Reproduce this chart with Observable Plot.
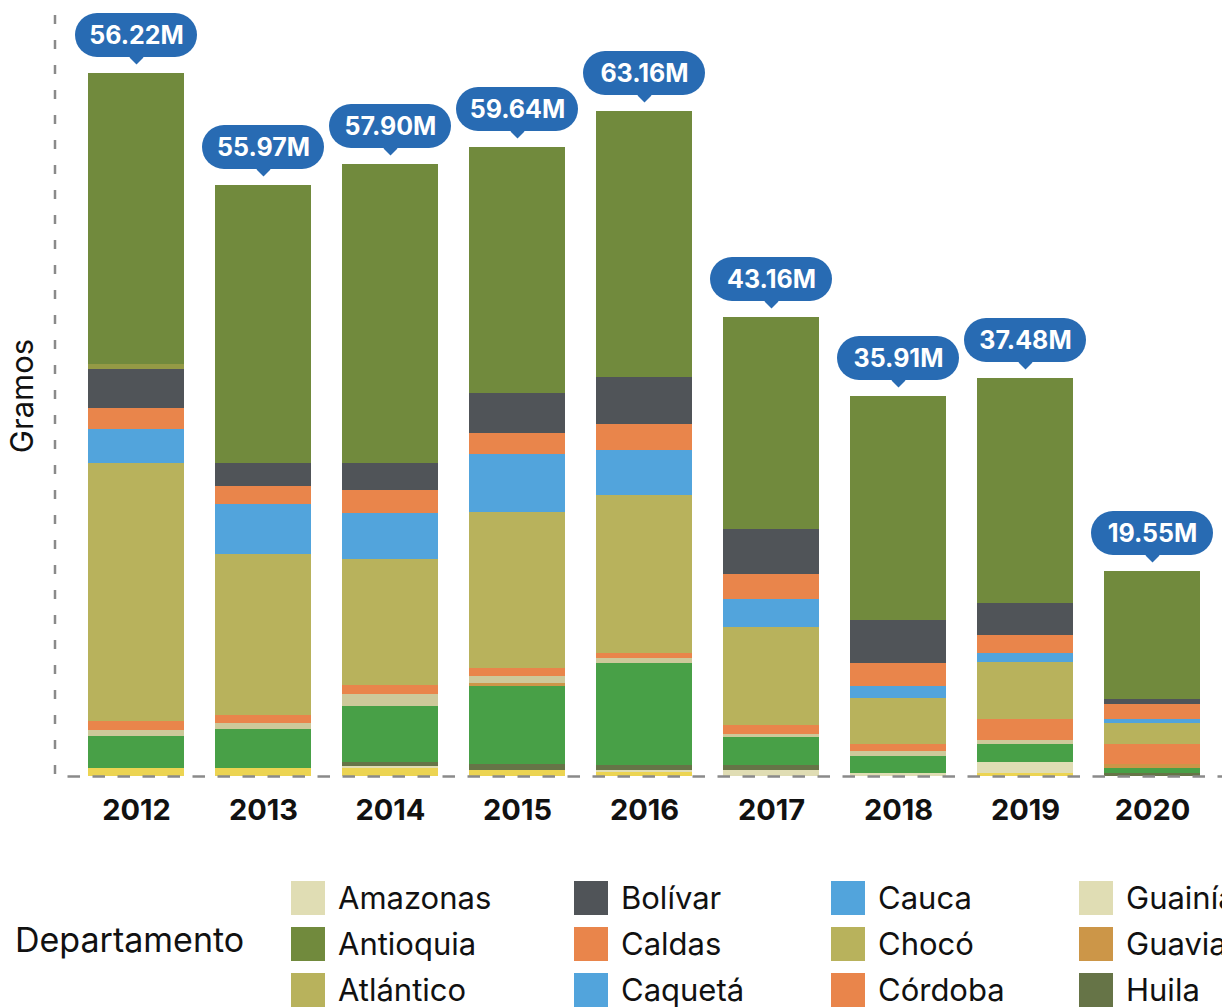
<!DOCTYPE html>
<html>
<head>
<meta charset="utf-8">
<script src="https://cdn.jsdelivr.net/npm/d3@7"></script>
<script src="https://cdn.jsdelivr.net/npm/@observablehq/plot@0.6"></script>
<style>
  html, body { margin: 0; padding: 0; background: #fff; width: 1222px; height: 1008px; overflow: hidden; }
  body { font-family: Inter, "Noto Sans", sans-serif; color: #111; }
  #chart svg { display: block; }
  #legend { position: relative; height: 148px; white-space: nowrap; }
  #legend .title { position: absolute; left: 15px; top: 63px; height: 34px; line-height: 34px; font-size: 34px; }
  #legend .grid { position: absolute; left: 291px; top: 21px; display: grid; grid-template-rows: repeat(3, 34px);
    grid-auto-flow: column; row-gap: 12px; grid-template-columns: 283px 257px 248px 250px; grid-auto-columns: 250px; }
  #legend .item { display: flex; align-items: center; height: 34px; }
  #legend .sw { width: 34px; height: 34px; margin-right: 13px; flex: none; }
  #legend .lab { font-size: 31px; line-height: 34px; }
</style>
</head>
<body>
<div id="chart"></div>
<div id="legend"></div>
<script>
// ---- Data (millions of grams) ----
const years = ["2012", "2013", "2014", "2015", "2016", "2017", "2018", "2019", "2020"];
const totalLabels = ["56.22M", "55.97M", "57.90M", "59.64M", "63.16M", "43.16M", "35.91M", "37.48M", "19.55M"];

const departamentos = ["Amazonas", "Antioquia", "Atlántico", "Bolívar", "Caldas", "Caquetá", "Cauca", "Chocó",
  "Córdoba", "Guainía", "Guaviare", "Huila", "Nariño", "Risaralda", "Santander", "Valle del Cauca"];
const colores = ["#e0ddb4", "#718a3d", "#b8b25c", "#505458", "#e9854b", "#52a4dc", "#52a4dc", "#b8b25c",
  "#e9854b", "#e0ddb4", "#cc9648", "#667447", "#48a047", "#cdc99a", "#949a45", "#ecd452"];

// stacking order, bottom to top
const stackOrder = ["Valle del Cauca", "Amazonas", "Huila", "Nariño", "Guaviare", "Risaralda", "Córdoba",
  "Chocó", "Cauca", "Caldas", "Bolívar", "Santander", "Antioquia"];

const antioquia = [23.28, 22.24, 23.92, 19.68, 21.28, 16.96, 17.92, 18.00, 10.24];
const santander = [0.40, 0, 0, 0, 0, 0, 0, 0, 0];
const bolivar   = [3.12, 1.84, 2.16, 3.20, 3.76, 3.60, 3.44, 2.56, 0.40];
const caldas    = [1.68, 1.44, 1.84, 1.68, 2.08, 2.00, 1.84, 1.44, 1.20];
const cauca     = [2.72, 4.00, 3.68, 4.64, 3.60, 2.24, 0.96, 0.72, 0.32];
const choco     = [20.64, 12.88, 10.08, 12.48, 12.64, 7.84, 3.68, 4.56, 1.68];
const cordoba   = [0.72, 0.64, 0.72, 0.64, 0.40, 0.72, 0.56, 1.68, 1.60];
const risaralda = [0.48, 0.48, 0.96, 0.56, 0.40, 0.24, 0.40, 0.32, 0];
const guaviare  = [0, 0, 0, 0.24, 0, 0, 0, 0, 0.32];
const narino    = [2.56, 3.12, 4.48, 6.24, 8.16, 2.24, 1.36, 1.44, 0.40];
const huila     = [0, 0, 0.32, 0.48, 0.40, 0.40, 0, 0, 0.24];
const amazonas  = [0, 0, 0.16, 0, 0.16, 0.48, 0.24, 0.88, 0];
const valle     = [0.64, 0.64, 0.64, 0.48, 0.32, 0, 0, 0.24, 0];

// ---- Build table ----
const seriesByDept = new Map([
  ["Antioquia", antioquia], ["Santander", santander], ["Bolívar", bolivar], ["Caldas", caldas],
  ["Cauca", cauca], ["Chocó", choco], ["Córdoba", cordoba], ["Risaralda", risaralda],
  ["Guaviare", guaviare], ["Nariño", narino], ["Huila", huila], ["Amazonas", amazonas],
  ["Valle del Cauca", valle]
]);
const rows = [];
for (const dept of stackOrder) {
  const vals = seriesByDept.get(dept);
  years.forEach((year, i) => rows.push({year, dept, value: vals[i]}));
}
const totals = years.map((year, i) => ({
  year,
  total: d3.sum(stackOrder, dept => seriesByDept.get(dept)[i]),
  label: totalLabels[i]
}));

const blue = "#286bb3";
const axisGrey = "#8a8a8a";

const chart = Plot.plot({
  width: 1222,
  height: 860,
  marginLeft: 55,
  marginRight: 0,
  marginTop: 15,
  marginBottom: 84,
  style: {fontFamily: "Inter, 'Noto Sans', sans-serif", background: "#fff", color: "#111", overflow: "visible"},
  x: {domain: years, paddingInner: 0.245, paddingOuter: 0.2124, align: 0.593, label: null},
  y: {domain: [0, 60.88], axis: null},
  color: {domain: departamentos, range: colores},
  marks: [
    Plot.barY(rows, {x: "year", y: "value", fill: "dept", order: stackOrder}),
    Plot.ruleY([0], {stroke: axisGrey, strokeWidth: 2.5, strokeDasharray: "12.5,12.5", strokeDashoffset: 12.5}),
    Plot.axisX({tickSize: 0, tickPadding: 23, fontSize: 29, fontWeight: 700, fill: "#111", label: null}),
    Plot.text(["Gramos"], {text: d => d, frameAnchor: "left", textAnchor: "middle", dx: -32, rotate: -90, fontSize: 31, fill: "#111"}),
    Plot.dot(totals, {x: "year", y: "total", dy: -16, symbol: "square", rotate: 45, r: 5.6, fill: blue, stroke: null}),
    Plot.barY(totals, {x: "year", y1: "total", y2: "total", fill: blue, insetLeft: -13, insetRight: -13,
      insetTop: -60, insetBottom: 16, rx: 22, ry: 22}),
    Plot.text(totals, {x: "year", y: "total", text: "label", dy: -38, fill: "#fff", fontSize: 25, fontWeight: 700})
  ]
});

// dashed vertical axis line at the left edge of the x range
const xr = chart.scale("x").range;
const yr = chart.scale("y").range;
d3.select(chart).append("line")
  .attr("x1", xr[0]).attr("x2", xr[0])
  .attr("y1", Math.min(...yr)).attr("y2", Math.max(...yr))
  .attr("stroke", axisGrey).attr("stroke-width", 2.5).attr("stroke-dasharray", "9,16");

document.getElementById("chart").appendChild(chart);

// ---- Legend ----
const legend = d3.select("#legend");
legend.append("div").attr("class", "title").text("Departamento");
const grid = legend.append("div").attr("class", "grid");
departamentos.forEach((d, i) => {
  const it = grid.append("div").attr("class", "item");
  it.append("div").attr("class", "sw").style("background", colores[i]);
  it.append("div").attr("class", "lab").text(d);
});
</script>
</body>
</html>
